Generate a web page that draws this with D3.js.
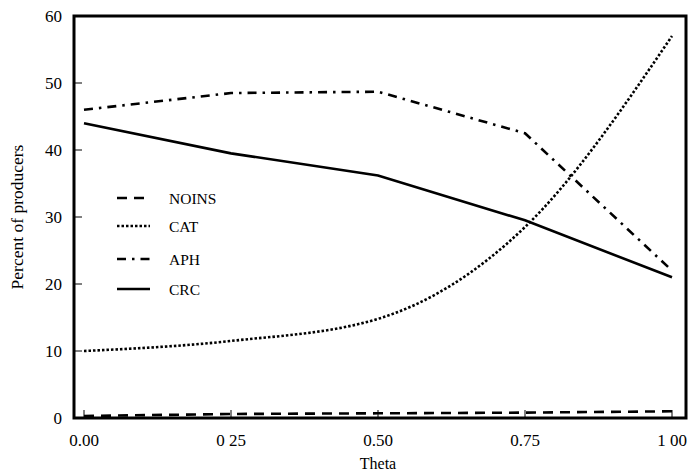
<!DOCTYPE html>
<html>
<head>
<meta charset="utf-8">
<script src="https://cdn.jsdelivr.net/npm/d3@7"></script>
<style>
  body { margin: 0; background: #fff; }
  text { font-family: "Liberation Serif", "Times New Roman", serif; fill: #000; }
</style>
</head>
<body>
<svg id="chart" width="691" height="474"></svg>
<script>
// data
const theta = [0, 0.25, 0.5, 0.75, 1.0];
const xTickLabels = ["0.00", "0 25", "0.50", "0.75", "1 00"];
const yTicks = [0, 10, 20, 30, 40, 50, 60];
const noins = [0.3, 0.6, 0.7, 0.8, 1.0];
const cat = [10, 11.5, 14.8, 28.5, 57];
const aph = [46, 48.5, 48.7, 42.5, 22];
const crc = [44, 39.5, 36.2, 29.5, 21];

const seriesNames = ["NOINS", "CAT", "APH", "CRC"];
const seriesVals = [noins, cat, aph, crc];
const dashes = ["10,7", "2.5,2", "9,6,2.5,6", null];

const svg = d3.select("#chart");
const frame = { left: 74, right: 686, top: 16, bottom: 418 };

const x = d3.scaleLinear().domain([0, 1]).range([84, 672]);
const y = d3.scaleLinear().domain([0, 60]).range([frame.bottom, frame.top]);

// frame
svg.append("rect")
    .attr("x", frame.left)
    .attr("y", frame.top)
    .attr("width", frame.right - frame.left)
    .attr("height", frame.bottom - frame.top)
    .attr("fill", "none")
    .attr("stroke", "#000")
    .attr("stroke-width", 3);

// y ticks (inside)
svg.selectAll(".ytick")
    .data(yTicks)
    .enter()
    .append("line")
    .attr("x1", frame.left)
    .attr("x2", frame.left + 8)
    .attr("y1", d => y(d))
    .attr("y2", d => y(d))
    .attr("stroke", "#000")
    .attr("stroke-width", 1);

svg.selectAll(".ylab")
    .data(yTicks)
    .enter()
    .append("text")
    .attr("x", 62)
    .attr("y", d => y(d) + 6)
    .attr("text-anchor", "end")
    .style("font-size", "17px")
    .text(d => d);

// x ticks (inside)
svg.selectAll(".xtick")
    .data(theta)
    .enter()
    .append("line")
    .attr("x1", d => x(d))
    .attr("x2", d => x(d))
    .attr("y1", frame.bottom)
    .attr("y2", frame.bottom - 8)
    .attr("stroke", "#000")
    .attr("stroke-width", 1);

svg.selectAll(".xlab")
    .data(theta)
    .enter()
    .append("text")
    .attr("x", d => x(d))
    .attr("y", 446)
    .attr("text-anchor", "middle")
    .style("font-size", "17px")
    .text((d, i) => xTickLabels[i]);

// axis titles
svg.append("text")
    .attr("x", 378)
    .attr("y", 469)
    .attr("text-anchor", "middle")
    .style("font-size", "16px")
    .text("Theta");

svg.append("text")
    .attr("transform", "rotate(-90)")
    .attr("x", -217)
    .attr("y", 23)
    .attr("text-anchor", "middle")
    .style("font-size", "17.5px")
    .text("Percent of producers");

// lines
const line = d3.line()
    .x((d, i) => x(theta[i]))
    .y(d => y(d));

const smooth = d3.line()
    .x((d, i) => x(theta[i]))
    .y(d => y(d))
    .curve(d3.curveMonotoneX);

seriesVals.forEach((vals, i) => {
    svg.append("path")
        .datum(vals)
        .attr("d", seriesNames[i] === "CAT" ? smooth : line)
        .attr("fill", "none")
        .attr("stroke", "#000")
        .attr("stroke-width", 2.6)
        .attr("stroke-dasharray", dashes[i]);
});

// legend
const legendY = [198, 226, 259, 289];
const legend = svg.selectAll(".legend")
    .data(seriesNames)
    .enter()
    .append("g")
    .attr("transform", (d, i) => `translate(117, ${legendY[i]})`);

legend.append("line")
    .attr("x1", 0)
    .attr("x2", 33)
    .attr("y1", 0)
    .attr("y2", 0)
    .attr("stroke", "#000")
    .attr("stroke-width", 2.6)
    .attr("stroke-dasharray", (d, i) => dashes[i]);

legend.append("text")
    .attr("x", 52)
    .attr("y", 6)
    .style("font-size", "15.5px")
    .text(d => d);
</script>
</body>
</html>
